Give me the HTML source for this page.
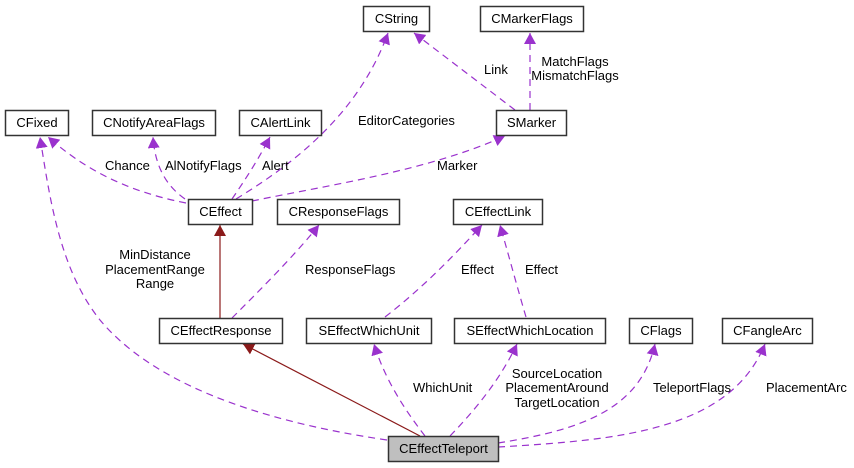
<!DOCTYPE html>
<html><head><meta charset="utf-8"><style>
html,body{margin:0;padding:0;background:#fff;}
svg{display:block;}
text{font-family:"Liberation Sans",Arial,sans-serif;font-size:13px;fill:#000;}
.n{fill:#fff;stroke:#333;stroke-width:1.5;}
.e{fill:none;stroke:#9a32cd;stroke-width:1.2;stroke-dasharray:7,5;}
.s{fill:none;stroke:#8b1a1a;stroke-width:1.2;}
</style></head><body>
<svg width="854" height="468" viewBox="0 0 854 468" xmlns="http://www.w3.org/2000/svg">
<defs>
<marker id="p" markerWidth="12" markerHeight="12" refX="11" refY="6" orient="auto" markerUnits="userSpaceOnUse"><path d="M0,0 L11,6 L0,12 z" fill="#9a32cd"/></marker>
<marker id="r" markerWidth="12" markerHeight="12" refX="11" refY="6" orient="auto" markerUnits="userSpaceOnUse"><path d="M0,0 L11,6 L0,12 z" fill="#8b1a1a"/></marker>
</defs>
<!-- edges -->
<path class="e" marker-end="url(#p)" d="M515,110 L414,33"/>
<path class="e" marker-end="url(#p)" d="M530,110 L530,33"/>
<path class="e" marker-end="url(#p)" d="M236,199 C300,160 360,110 388,33"/>
<path class="e" marker-end="url(#p)" d="M186,203 C120,190 80,165 48,137"/>
<path class="e" marker-end="url(#p)" d="M387,440 C250,420 150,380 100,320 C60,270 50,200 40,137"/>
<path class="e" marker-end="url(#p)" d="M185,199 C165,185 155,165 153,137"/>
<path class="e" marker-end="url(#p)" d="M232,199 C245,180 258,160 270,137"/>
<path class="e" marker-end="url(#p)" d="M252,201 C330,185 430,170 505,136"/>
<path class="s" marker-end="url(#r)" d="M220,318 L220,225"/>
<path class="e" marker-end="url(#p)" d="M232,318 C260,290 295,255 319,225"/>
<path class="e" marker-end="url(#p)" d="M385,317 C420,290 450,260 482,225"/>
<path class="e" marker-end="url(#p)" d="M526,317 C518,290 510,260 500,225"/>
<path class="s" marker-end="url(#r)" d="M420,436 L243,344"/>
<path class="e" marker-end="url(#p)" d="M425,436 C405,410 385,380 374,344"/>
<path class="e" marker-end="url(#p)" d="M450,436 C475,410 500,380 517,344"/>
<path class="e" marker-end="url(#p)" d="M498,443 C580,430 640,410 655,344"/>
<path class="e" marker-end="url(#p)" d="M498,447 C620,440 730,430 765,344"/>
<!-- nodes -->
<rect class="n" x="363.5" y="6.5" width="66" height="25"/><text x="396.5" y="23" text-anchor="middle">CString</text>
<rect class="n" x="480.5" y="6.5" width="103" height="25"/><text x="532" y="23" text-anchor="middle">CMarkerFlags</text>
<rect class="n" x="5.5" y="110.5" width="63" height="25"/><text x="37" y="127" text-anchor="middle">CFixed</text>
<rect class="n" x="92.5" y="110.5" width="123" height="25"/><text x="154" y="127" text-anchor="middle">CNotifyAreaFlags</text>
<rect class="n" x="239.5" y="110.5" width="82" height="25"/><text x="280.5" y="127" text-anchor="middle">CAlertLink</text>
<rect class="n" x="496.5" y="110.5" width="70" height="25"/><text x="531.5" y="127" text-anchor="middle">SMarker</text>
<rect class="n" x="188.5" y="199.5" width="64" height="25"/><text x="220.5" y="216" text-anchor="middle">CEffect</text>
<rect class="n" x="277.5" y="199.5" width="122" height="25"/><text x="338.5" y="216" text-anchor="middle">CResponseFlags</text>
<rect class="n" x="453.5" y="199.5" width="89" height="25"/><text x="498" y="216" text-anchor="middle">CEffectLink</text>
<rect class="n" x="159.5" y="318.5" width="123" height="25"/><text x="221" y="335" text-anchor="middle">CEffectResponse</text>
<rect class="n" x="306.5" y="318.5" width="125" height="25"/><text x="369" y="335" text-anchor="middle">SEffectWhichUnit</text>
<rect class="n" x="454.5" y="318.5" width="151" height="25"/><text x="530" y="335" text-anchor="middle">SEffectWhichLocation</text>
<rect class="n" x="629.5" y="318.5" width="63" height="25"/><text x="661" y="335" text-anchor="middle">CFlags</text>
<rect class="n" x="722.5" y="318.5" width="90" height="25"/><text x="767.5" y="335" text-anchor="middle">CFangleArc</text>
<rect x="388.5" y="436.5" width="110" height="25" fill="#bfbfbf" stroke="#333" stroke-width="1.5"/><text x="443.5" y="453" text-anchor="middle">CEffectTeleport</text>
<!-- labels -->
<text x="484" y="74">Link</text>
<text x="575" y="66" text-anchor="middle">MatchFlags</text>
<text x="575" y="80" text-anchor="middle">MismatchFlags</text>
<text x="358" y="125">EditorCategories</text>
<text x="105" y="170">Chance</text>
<text x="165" y="170">AlNotifyFlags</text>
<text x="262" y="170">Alert</text>
<text x="437" y="170">Marker</text>
<text x="155" y="259" text-anchor="middle">MinDistance</text>
<text x="155" y="274" text-anchor="middle">PlacementRange</text>
<text x="155" y="288" text-anchor="middle">Range</text>
<text x="305" y="274">ResponseFlags</text>
<text x="461" y="274">Effect</text>
<text x="525" y="274">Effect</text>
<text x="413" y="392">WhichUnit</text>
<text x="557" y="378" text-anchor="middle">SourceLocation</text>
<text x="557" y="392" text-anchor="middle">PlacementAround</text>
<text x="557" y="407" text-anchor="middle">TargetLocation</text>
<text x="653" y="392">TeleportFlags</text>
<text x="766" y="392">PlacementArc</text>
</svg>
</body></html>
